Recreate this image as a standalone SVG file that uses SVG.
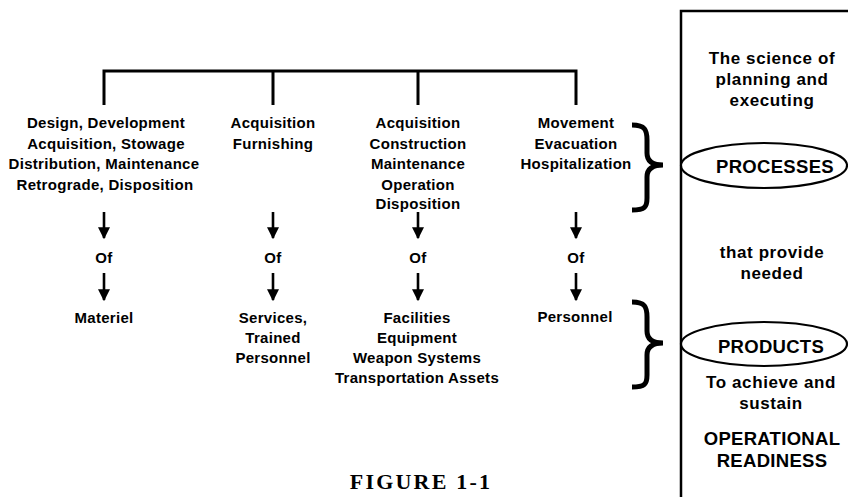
<svg xmlns="http://www.w3.org/2000/svg" width="848" height="497" viewBox="0 0 848 497">
<defs>
<style>
.t{font-family:"Liberation Sans",Arial,Helvetica,sans-serif;font-weight:bold;font-size:15px;letter-spacing:0.3px;fill:#000;text-anchor:middle}
.b{font-family:"Liberation Sans",Arial,Helvetica,sans-serif;font-weight:bold;font-size:17px;letter-spacing:0.6px;fill:#000;text-anchor:middle}
.c{font-family:"Liberation Sans",Arial,Helvetica,sans-serif;font-weight:bold;font-size:18.5px;letter-spacing:0.3px;fill:#000;text-anchor:middle}
.ln{stroke:#000;stroke-width:3;fill:none}
.ar{stroke:#000;stroke-width:2.6;fill:none}
.br{stroke:#000;stroke-width:5;fill:none}
.el{stroke:#000;stroke-width:2.2;fill:#fff}
.fig{font-family:"Liberation Serif","Times New Roman",serif;font-weight:bold;font-size:22px;letter-spacing:2.2px;fill:#000;text-anchor:middle}
</style>
<marker id="ah" markerUnits="userSpaceOnUse" markerWidth="12" markerHeight="12" viewBox="0 0 10 10" refX="9" refY="5" orient="auto">
<path d="M0,0 L10,5 L0,10 Z" fill="#000"/>
</marker>
</defs>
<rect width="848" height="497" fill="#fff"/>

<g id="connectors">
<path class="ln" d="M102.5,71 H577.5 M104,71 V105 M273,71 V105 M418,71 V105 M576,71 V105"/>
<line class="ar" x1="104" y1="212" x2="104" y2="238" marker-end="url(#ah)"/>
<line class="ar" x1="273" y1="212" x2="273" y2="238" marker-end="url(#ah)"/>
<line class="ar" x1="418" y1="212" x2="418" y2="238" marker-end="url(#ah)"/>
<line class="ar" x1="576" y1="212" x2="576" y2="238" marker-end="url(#ah)"/>
<line class="ar" x1="104" y1="273" x2="104" y2="300" marker-end="url(#ah)"/>
<line class="ar" x1="273" y1="273" x2="273" y2="300" marker-end="url(#ah)"/>
<line class="ar" x1="418" y1="273" x2="418" y2="300" marker-end="url(#ah)"/>
<line class="ar" x1="576" y1="273" x2="576" y2="300" marker-end="url(#ah)"/>
<path class="br" d="M632,125 C645,125 647,130 647,140 L647,153 C647,161 652,165 663,165 C652,165 647,169 647,177 L647,198 C647,207 645,210 632,210"/>
<path class="br" d="M632,302 C645,302 647,307 647,317 L647,331 C647,339 652,343 663,343 C652,343 647,347 647,355 L647,375 C647,384 645,387 632,387"/>
</g>

<g id="col1">
<text class="t" x="106" y="128">Design, Development</text>
<text class="t" x="106" y="148.5">Acquisition, Stowage</text>
<text class="t" x="104" y="169">Distribution, Maintenance</text>
<text class="t" x="105" y="189.5">Retrograde, Disposition</text>
<text class="t" x="104" y="263">Of</text>
<text class="t" x="104" y="323">Materiel</text>
</g>

<g id="col2">
<text class="t" x="273" y="128">Acquisition</text>
<text class="t" x="273" y="148.5">Furnishing</text>
<text class="t" x="273" y="263">Of</text>
<text class="t" x="273" y="323">Services,</text>
<text class="t" x="273" y="343">Trained</text>
<text class="t" x="273" y="363">Personnel</text>
</g>

<g id="col3">
<text class="t" x="418" y="128">Acquisition</text>
<text class="t" x="418" y="148.5">Construction</text>
<text class="t" x="418" y="169">Maintenance</text>
<text class="t" x="418" y="189.5">Operation</text>
<text class="t" x="418" y="209">Disposition</text>
<text class="t" x="418" y="263">Of</text>
<text class="t" x="417" y="323">Facilities</text>
<text class="t" x="417" y="343">Equipment</text>
<text class="t" x="417" y="363">Weapon Systems</text>
<text class="t" x="417" y="383">Transportation Assets</text>
</g>

<g id="col4">
<text class="t" x="576" y="128">Movement</text>
<text class="t" x="576" y="148.5">Evacuation</text>
<text class="t" x="576" y="169">Hospitalization</text>
<text class="t" x="576" y="263">Of</text>
<text class="t" x="575" y="322">Personnel</text>
</g>

<g id="definition-box">
<rect x="681" y="11" width="180" height="500" fill="none" stroke="#000" stroke-width="2.5"/>
<text class="b" x="772" y="64">The science of</text>
<text class="b" x="772" y="85">planning and</text>
<text class="b" x="772" y="106">executing</text>
<text class="b" x="772" y="258">that provide</text>
<text class="b" x="772" y="279">needed</text>
<text class="b" x="771" y="388">To achieve and</text>
<text class="b" x="771" y="409">sustain</text>
<text class="c" x="772" y="445">OPERATIONAL</text>
<text class="c" x="772" y="467">READINESS</text>
</g>

<g id="processes">
<ellipse class="el" cx="764" cy="165.5" rx="83" ry="22.5"/>
<text class="c" x="775" y="173">PROCESSES</text>
</g>

<g id="products">
<ellipse class="el" cx="764" cy="344" rx="83" ry="22"/>
<text class="c" x="771" y="353">PRODUCTS</text>
</g>

<g id="caption">
<text class="fig" x="421" y="489">FIGURE 1-1</text>
</g>
</svg>
